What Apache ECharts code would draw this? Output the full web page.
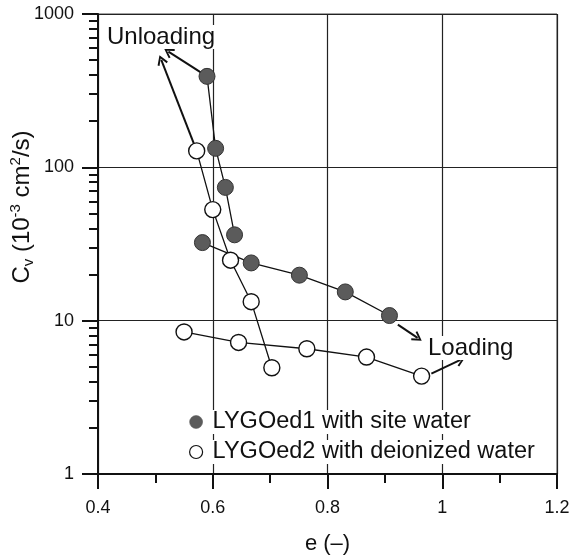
<!DOCTYPE html>
<html>
<head>
<meta charset="utf-8">
<script src="https://cdn.jsdelivr.net/npm/echarts@6/dist/echarts.min.js"></script>
<style>
  html, body { margin: 0; padding: 0; background: #fff; }
  #chart { width: 569px; height: 558px; }
</style>
</head>
<body>
<div id="chart"></div>
<script>
// e (-) vs Cv (1e-3 cm2/s)
var site_unload = [[0.590, 392], [0.605, 133], [0.622, 74], [0.638, 36.3]];
var site_load = [[0.582, 32.3], [0.667, 23.8], [0.751, 19.8], [0.831, 15.4], [0.908, 10.8]];
var deion_unload = [[0.572, 128], [0.600, 53], [0.631, 24.8], [0.667, 13.3], [0.703, 4.93]];
var deion_load = [[0.550, 8.44], [0.645, 7.21], [0.764, 6.56], [0.868, 5.79], [0.964, 4.35]];

var seriesNames = ['LYGOed1 with site water', 'LYGOed2 with deionized water'];
var xTicks = [0.4, 0.6, 0.8, 1.0, 1.2];
var yTicks = [1, 10, 100, 1000];
var yMinorTicks = [2, 3, 4, 5, 6, 7, 8, 9, 20, 30, 40, 50, 60, 70, 80, 90, 200, 300, 400, 500, 600, 700, 800, 900];

// arrow annotations (data coords): [from, to]
var unloadArrows = [[[0.590, 392], [0.5227, 569]], [[0.572, 128], [0.5103, 502]]];
var loadArrows = [[[0.9226, 9.42], [0.957, 7.72]], [[0.981, 4.51], [1.0317, 5.55]]];

var FONT = "'Liberation Sans', Arial, Helvetica, sans-serif";
var TXT = '#111';
var chevron = 'path://M10,0 L20,17 L17,19 L10,6.5 L3,19 L0,17 Z';

var chart = echarts.init(document.getElementById('chart'));

function arrowLine(list) {
    return {
        silent: true,
        z: 1,
        symbol: ['none', chevron],
        symbolSize: [11, 10],
        label: {show: false},
        lineStyle: {color: '#111', width: 2, type: 'solid'},
        emphasis: {disabled: true},
        animation: false,
        data: list.map(function (a) {
            return [{coord: a[0]}, {coord: a[1]}];
        })
    };
}

var filledStyle = {color: '#5b5b5b', borderColor: '#333', borderWidth: 1};
var openStyle = {color: '#fff', borderColor: '#111', borderWidth: 1.4};

function lineSeries(name, data, style, extra) {
    var s = {
        name: name,
        type: 'line',
        data: data,
        symbol: 'circle',
        symbolSize: 16,
        showAllSymbol: true,
        itemStyle: style,
        lineStyle: {color: '#111', width: 1.3},
        emphasis: {disabled: true},
        animation: false,
        z: 3
    };
    if (extra) s.markLine = extra;
    return s;
}

var option = {
    backgroundColor: '#fff',
    animation: false,
    grid: {
        left: 98, right: 12, top: 14, bottom: 84,
        show: true, borderColor: '#444', borderWidth: 1,
        containLabel: false, outerBoundsMode: 'none'
    },
    legend: {
        orient: 'vertical',
        left: 184,
        top: 405,
        itemWidth: 13,
        itemHeight: 13,
        itemGap: 6,
        selectedMode: false,
        textStyle: {
            fontFamily: FONT, fontSize: 23.5, color: TXT,
            lineHeight: 24, backgroundColor: '#fff', padding: [0, 3, 0, 5]
        },
        data: [
            {name: seriesNames[0], icon: 'circle', itemStyle: {color: '#5b5b5b', borderColor: '#555', borderWidth: 0.5}},
            {name: seriesNames[1], icon: 'circle', itemStyle: {color: '#fff', borderColor: '#111', borderWidth: 1.2}}
        ]
    },
    xAxis: {
        type: 'value',
        min: xTicks[0],
        max: xTicks[xTicks.length - 1],
        interval: 0.2,
        name: 'e (–)',
        nameLocation: 'middle',
        nameGap: 59,
        nameTextStyle: {fontFamily: FONT, fontSize: 22, color: TXT},
        axisLine: {lineStyle: {color: '#111', width: 2}},
        axisTick: {show: true, inside: false, length: 15, lineStyle: {color: '#111', width: 2}},
        minorTick: {show: true, splitNumber: 2, length: 9, lineStyle: {color: '#111', width: 2}},
        axisLabel: {fontFamily: FONT, fontSize: 18, color: TXT, margin: 25},
        splitLine: {show: true, lineStyle: {color: '#222', width: 1.2}}
    },
    yAxis: [
        {
            type: 'log',
            logBase: 10,
            min: yTicks[0],
            max: yTicks[yTicks.length - 1],
            axisLine: {show: true, lineStyle: {color: '#111', width: 2}},
            axisTick: {show: true, inside: false, length: 16, lineStyle: {color: '#111', width: 2}},
            axisLabel: {
                fontFamily: FONT, fontSize: 18, color: TXT, margin: 24,
                formatter: function (v) { return String(Math.round(v)); }
            },
            splitLine: {show: true, lineStyle: {color: '#222', width: 1.2}}
        },
        {
            type: 'log',
            logBase: 10,
            min: yTicks[0],
            max: yTicks[yTicks.length - 1],
            position: 'left',
            offset: 0,
            axisLine: {show: false},
            axisLabel: {show: false},
            splitLine: {show: false},
            axisTick: {show: true, inside: false, length: 9, customValues: yMinorTicks, lineStyle: {color: '#111', width: 2}}
        }
    ],
    graphic: [
        {
            type: 'text',
            x: 22,
            y: 207,
            rotation: Math.PI / 2,
            z: 100,
            style: {
                text: '{n|C}{sub|v}{n| (10}{sup|-3}{n| cm}{sup|2}{n|/s)}',
                align: 'center',
                verticalAlign: 'middle',
                fill: TXT,
                rich: {
                    n: {fontFamily: FONT, fontSize: 24, lineHeight: 28, fill: TXT},
                    sub: {fontFamily: FONT, fontSize: 15, lineHeight: 26, verticalAlign: 'bottom', fill: TXT},
                    sup: {fontFamily: FONT, fontSize: 15, lineHeight: 28, verticalAlign: 'top', fill: TXT}
                }
            }
        },
        {
            type: 'text',
            x: 106,
            y: 37,
            z: 100,
            style: {
                text: 'Unloading',
                font: '24px ' + FONT,
                fill: TXT,
                verticalAlign: 'middle',
                backgroundColor: '#fff',
                padding: [0, 1]
            }
        },
        {
            type: 'text',
            x: 427,
            y: 348,
            z: 100,
            style: {
                text: 'Loading',
                font: '24px ' + FONT,
                fill: TXT,
                verticalAlign: 'middle',
                backgroundColor: '#fff',
                padding: [0, 1]
            }
        }
    ],
    series: [
        lineSeries(seriesNames[0], site_unload, filledStyle, arrowLine(unloadArrows.slice(0, 1))),
        lineSeries(seriesNames[0], site_load, filledStyle, arrowLine(loadArrows.slice(0, 1))),
        lineSeries(seriesNames[1], deion_unload, openStyle, arrowLine(unloadArrows.slice(1))),
        lineSeries(seriesNames[1], deion_load, openStyle, arrowLine(loadArrows.slice(1)))
    ]
};

chart.setOption(option);
</script>
</body>
</html>
